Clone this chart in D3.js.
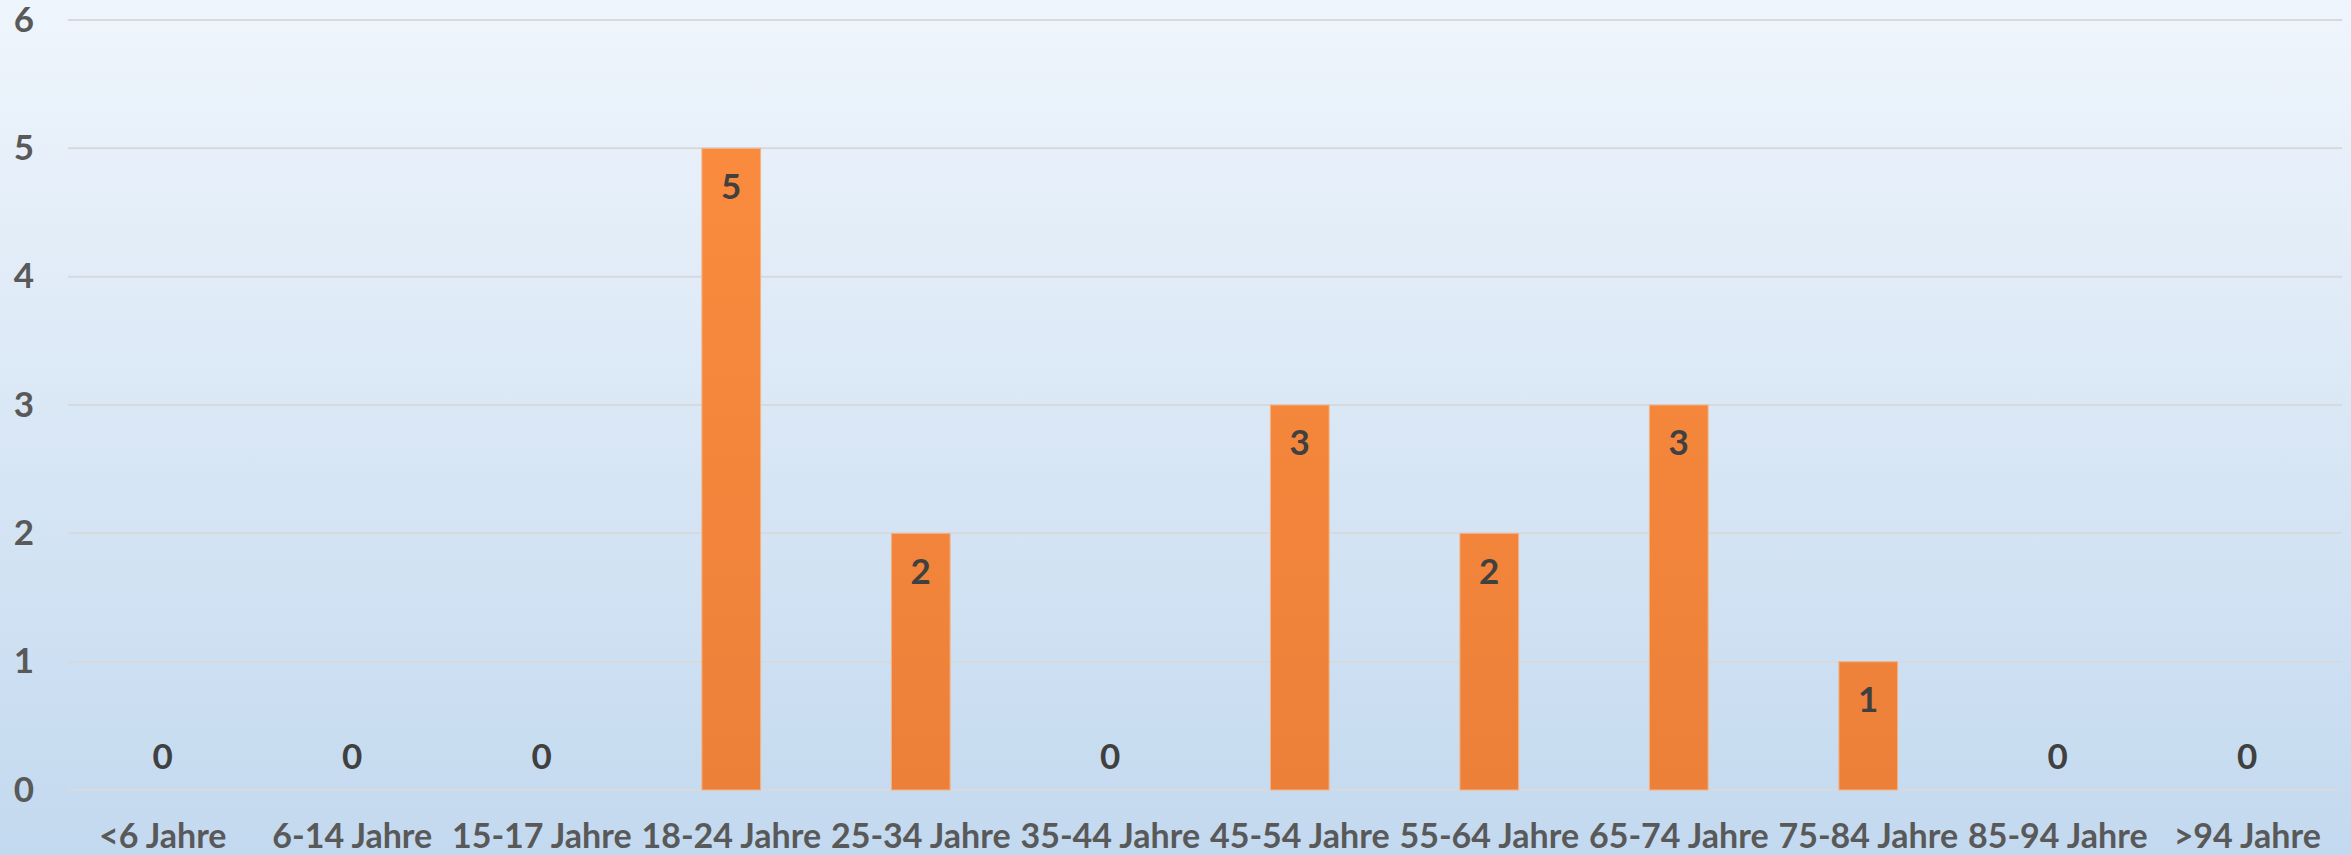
<!DOCTYPE html>
<html>
<head>
<meta charset="utf-8">
<script src="https://cdn.jsdelivr.net/npm/d3@7"></script>
<style>
  html, body { margin: 0; padding: 0; overflow: hidden; }
  svg text { font-family: Lato, "Open Sans", sans-serif; font-weight: bold; }
</style>
</head>
<body>
<div id="chart"></div>
<script>
var categories = ["<6 Jahre", "6-14 Jahre", "15-17 Jahre", "18-24 Jahre", "25-34 Jahre", "35-44 Jahre",
                  "45-54 Jahre", "55-64 Jahre", "65-74 Jahre", "75-84 Jahre", "85-94 Jahre", ">94 Jahre"];
var values = [0, 0, 0, 5, 2, 0, 3, 2, 3, 1, 0, 0];
var yTicks = [0, 1, 2, 3, 4, 5, 6];

var W = 2351, H = 855;
var margin = {top: 20, right: 9, bottom: 65, left: 68};

var svg = d3.select("#chart").append("svg")
    .attr("width", W)
    .attr("height", H);

var defs = svg.append("defs");
var bg = defs.append("linearGradient").attr("id", "bg")
    .attr("x1", 0).attr("y1", 0).attr("x2", 0).attr("y2", 1);
bg.append("stop").attr("offset", "0%").attr("stop-color", "#eff5fc");
bg.append("stop").attr("offset", "100%").attr("stop-color", "#c3d9ef");

var barGrad = defs.append("linearGradient").attr("id", "barGrad")
    .attr("gradientUnits", "userSpaceOnUse")
    .attr("x1", 0).attr("y1", margin.top).attr("x2", 0).attr("y2", H - margin.bottom);
barGrad.append("stop").attr("offset", "0%").attr("stop-color", "#fc8d3f");
barGrad.append("stop").attr("offset", "100%").attr("stop-color", "#ed8039");

svg.append("rect").attr("width", W).attr("height", H).attr("fill", "url(#bg)");

var x = d3.scaleBand()
    .domain(categories)
    .range([margin.left, W - margin.right])
    .paddingInner(0.69)
    .paddingOuter(0.345);

var y = d3.scaleLinear()
    .domain([0, 6])
    .range([H - margin.bottom, margin.top]);

// gridlines
svg.append("g")
    .selectAll("line")
    .data(yTicks)
    .enter().append("line")
    .attr("x1", margin.left)
    .attr("x2", W - margin.right)
    .attr("y1", function(d) { return y(d); })
    .attr("y2", function(d) { return y(d); })
    .attr("stroke", "#d6d9dd")
    .attr("stroke-width", 2);

// y axis labels
var yAxis = d3.axisLeft(y).tickValues(yTicks).tickFormat(d3.format("d")).tickSize(0).tickPadding(0);
svg.append("g")
    .attr("transform", "translate(34,0)")
    .call(yAxis)
    .call(function(g) { g.select(".domain").remove(); })
    .selectAll("text")
    .attr("fill", "#595959")
    .attr("font-size", 35)
    .attr("font-family", "Lato, sans-serif")
    .attr("font-weight", "bold");

// x axis labels
var xAxis = d3.axisBottom(x).tickSize(0).tickPadding(0);
svg.append("g")
    .attr("transform", "translate(0," + (H - margin.bottom + 34) + ")")
    .call(xAxis)
    .call(function(g) { g.select(".domain").remove(); })
    .selectAll("text")
    .attr("fill", "#595959")
    .attr("font-size", 34)
    .attr("font-family", "Lato, sans-serif")
    .attr("font-weight", "bold");

// bars
svg.append("g")
    .selectAll("rect")
    .data(values)
    .enter().append("rect")
    .attr("x", function(d, i) { return x(categories[i]); })
    .attr("width", x.bandwidth())
    .attr("y", function(d) { return y(d); })
    .attr("height", function(d) { return y(0) - y(d); })
    .attr("fill", "url(#barGrad)")
    .attr("stroke", "#f3b48a")
    .attr("stroke-width", function(d) { return d > 0 ? 1 : 0; });

// data labels
svg.append("g")
    .selectAll("text")
    .data(values)
    .enter().append("text")
    .attr("x", function(d, i) { return x(categories[i]) + x.bandwidth() / 2; })
    .attr("y", function(d) { return d > 0 ? y(d) + 38 : y(0) - 33; })
    .attr("dy", "0.35em")
    .attr("text-anchor", "middle")
    .attr("fill", "#404040")
    .attr("font-size", 35)
    .text(function(d) { return d; });
</script>
</body>
</html>
